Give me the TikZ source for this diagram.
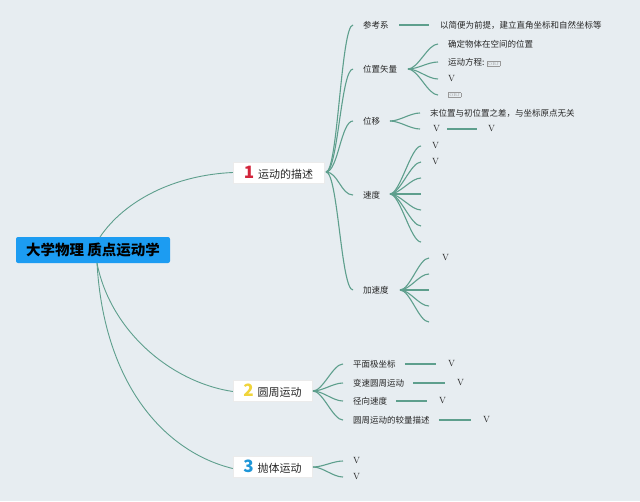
\documentclass[tikz,border=0pt]{standalone}
\usepackage{fontspec}
\newfontfamily\cjk{Noto Sans CJK SC}
\usetikzlibrary{calc}
\definecolor{bg}{HTML}{E7EDF1}
\definecolor{ln}{HTML}{5E9F8D}
\definecolor{rootblue}{HTML}{1C9CF2}
\definecolor{nred}{HTML}{D2253B}
\definecolor{nyel}{HTML}{F0D43A}
\definecolor{nblue}{HTML}{1E96D8}
\newcommand\objglyph{{\color{black!40}\fboxrule=0.3pt\fboxsep=0.8pt\fbox{\rmfamily\fontsize{4}{4}\selectfont OBJ}}}
\begin{document}
\begin{tikzpicture}[x=1pt,y=-1pt,
  conn/.style={draw=ln,line width=1.1pt},
  br/.style={to path={.. controls ($(\tikztostart)+(#1,0)$) and ($(\tikztotarget)+(-#1,0)$) .. (\tikztotarget)}},
  br/.default=10,
  lab/.style={anchor=west,inner sep=0pt,font=\cjk\fontsize{8.5}{10}\selectfont,text=black!85},
  vlab/.style={anchor=west,inner sep=0pt,font=\rmfamily\fontsize{9}{10}\selectfont,text=black!85},
  topic/.style={fill=white,draw=black!8,inner sep=0pt,minimum height=21pt,font=\cjk\fontsize{11}{12}\selectfont,text=black!85},
  num/.style={font=\cjk\bfseries\fontsize{16}{16}\selectfont}
]
\fill[bg] (0,0) rectangle (640,501);
\useasboundingbox (0,0) rectangle (640,501);

% root
\node[fill=rootblue,rounded corners=2pt,minimum width=154pt,minimum height=26pt,inner sep=0pt,
      font=\cjk\bfseries\fontsize{14.5}{15}\selectfont] (root) at (93,250) {大学物理 质点运动学};
\coordinate (rt) at (100,237);
\coordinate (rb) at (97,263);

% main topics
\node[topic,minimum width=91pt] (n1) at (278.5,172.5) {{\color{nred}\cjk\bfseries\fontsize{17}{17}\selectfont 1}\hspace{4pt}运动的描述};
\node[topic,minimum width=79pt] (n2) at (272.5,390.5) {{\color{nyel}\cjk\bfseries\fontsize{17}{17}\selectfont 2}\hspace{4pt}圆周运动};
\node[topic,minimum width=79pt] (n3) at (272.5,467) {{\color{nblue}\cjk\bfseries\fontsize{17}{17}\selectfont 3}\hspace{4pt}抛体运动};

\draw[conn,line width=0.9pt] (rt) .. controls (125,200) and (175,175) .. (n1.west);
\draw[conn,line width=0.9pt] (rb) .. controls (110,330) and (170,382) .. ($(n2.west)+(0,1)$);
\draw[conn,line width=0.9pt] (rb) .. controls (104,385) and (165,452) .. ($(n3.west)+(0,1.5)$);

% level 2 under n1
\coordinate (s1) at (326,172);
\node[lab] (ck) at (363,25) {参考系};
\node[lab] (wz) at (363,69) {位置矢量};
\node[lab] (wy) at (363,121) {位移};
\node[lab] (sd) at (363,195) {速度};
\node[lab] (jsd) at (363,290) {加速度};
\foreach \t in {ck,wz,wy,sd,jsd}
  \draw[conn] (s1) to[br=12] ($(\t.west)+(-10,0)$);

% 参考系
\coordinate (ckl1) at (399,25); \coordinate (ckl2) at (429,25);
\draw[conn] (ckl1) -- (ckl2);
\node[lab] (ckt) at (440,25) {以简便为前提，建立直角坐标和自然坐标等};

% 位置矢量
\coordinate (wzs) at (408,69);
\node[lab] (wz1) at (448,44) {确定物体在空间的位置};
\node[lab] (wz2) at (448,62) {运动方程: \objglyph};
\node[vlab] (wz3) at (448,79) {V};
\node[lab] (wz4) at (448,95) {\objglyph};
\foreach \t in {wz1,wz2,wz3,wz4}
  \draw[conn] (wzs) to[br=10] ($(\t.west)+(-10,0)$);

% 位移
\coordinate (wys) at (390,121);
\node[lab] (wy1) at (430,113) {末位置与初位置之差，与坐标原点无关};
\node[vlab] (wy2) at (433,129) {V};
\node[vlab] (wy3) at (488,129) {V};
\draw[conn] (wys) to[br=10] ($(wy1.west)+(-10,0)$);
\draw[conn] (wys) to[br=10] ($(wy2.west)+(-13,0)$);
\coordinate (wyl1) at (447,129); \coordinate (wyl2) at (477,129);
\draw[conn] (wyl1) -- (wyl2);

% 速度
\coordinate (sds) at (390,194);
\node[vlab] (sd1) at (432,146) {V};
\node[vlab] (sd2) at (432,162) {V};
\coordinate (sd3) at (421,178);
\coordinate (sd4) at (421,194);
\coordinate (sd5) at (421,210);
\coordinate (sd6) at (421,226);
\coordinate (sd7) at (421,242);
\draw[conn] (sds) to[br=10] ($(sd1.west)+(-11,0)$);
\draw[conn] (sds) to[br=10] ($(sd2.west)+(-11,0)$);
\foreach \t in {sd3,sd4,sd5,sd6,sd7}
  \draw[conn] (sds) to[br=10] (\t);

% 加速度
\coordinate (jss) at (400,290);
\node[vlab] (js1) at (442,258) {V};
\coordinate (js2) at (429,274);
\coordinate (js3) at (429,290);
\coordinate (js4) at (429,306);
\coordinate (js5) at (429,322);
\draw[conn] (jss) to[br=10] ($(js1.west)+(-13,0)$);
\foreach \t in {js2,js3,js4,js5}
  \draw[conn] (jss) to[br=10] (\t);

% level 2 under n2
\coordinate (s2) at (313,391);
\node[lab] (p1) at (353,364) {平面极坐标};
\node[lab] (p2) at (353,383) {变速圆周运动};
\node[lab] (p3) at (353,401) {径向速度};
\node[lab] (p4) at (353,420) {圆周运动的较量描述};
\foreach \t in {p1,p2,p3,p4}
  \draw[conn] (s2) to[br=10] ($(\t.west)+(-10,0)$);
\node[vlab] (v1) at (448,364) {V};
\node[vlab] (v2) at (457,383) {V};
\node[vlab] (v3) at (439,401) {V};
\node[vlab] (v4) at (483,420) {V};
\draw[conn] ($(p1.east)+(9,0)$) -- ($(v1.west)+(-12,0)$);
\draw[conn] ($(p2.east)+(9,0)$) -- ($(v2.west)+(-12,0)$);
\draw[conn] ($(p3.east)+(9,0)$) -- ($(v3.west)+(-12,0)$);
\draw[conn] ($(p4.east)+(9,0)$) -- ($(v4.west)+(-12,0)$);

% level 2 under n3
\coordinate (s3) at (313,467);
\node[vlab] (q1) at (353,461) {V};
\node[vlab] (q2) at (353,477) {V};
\draw[conn] (s3) to[br=10] ($(q1.west)+(-10,0)$);
\draw[conn] (s3) to[br=10] ($(q2.west)+(-10,0)$);
\end{tikzpicture}
\end{document}
